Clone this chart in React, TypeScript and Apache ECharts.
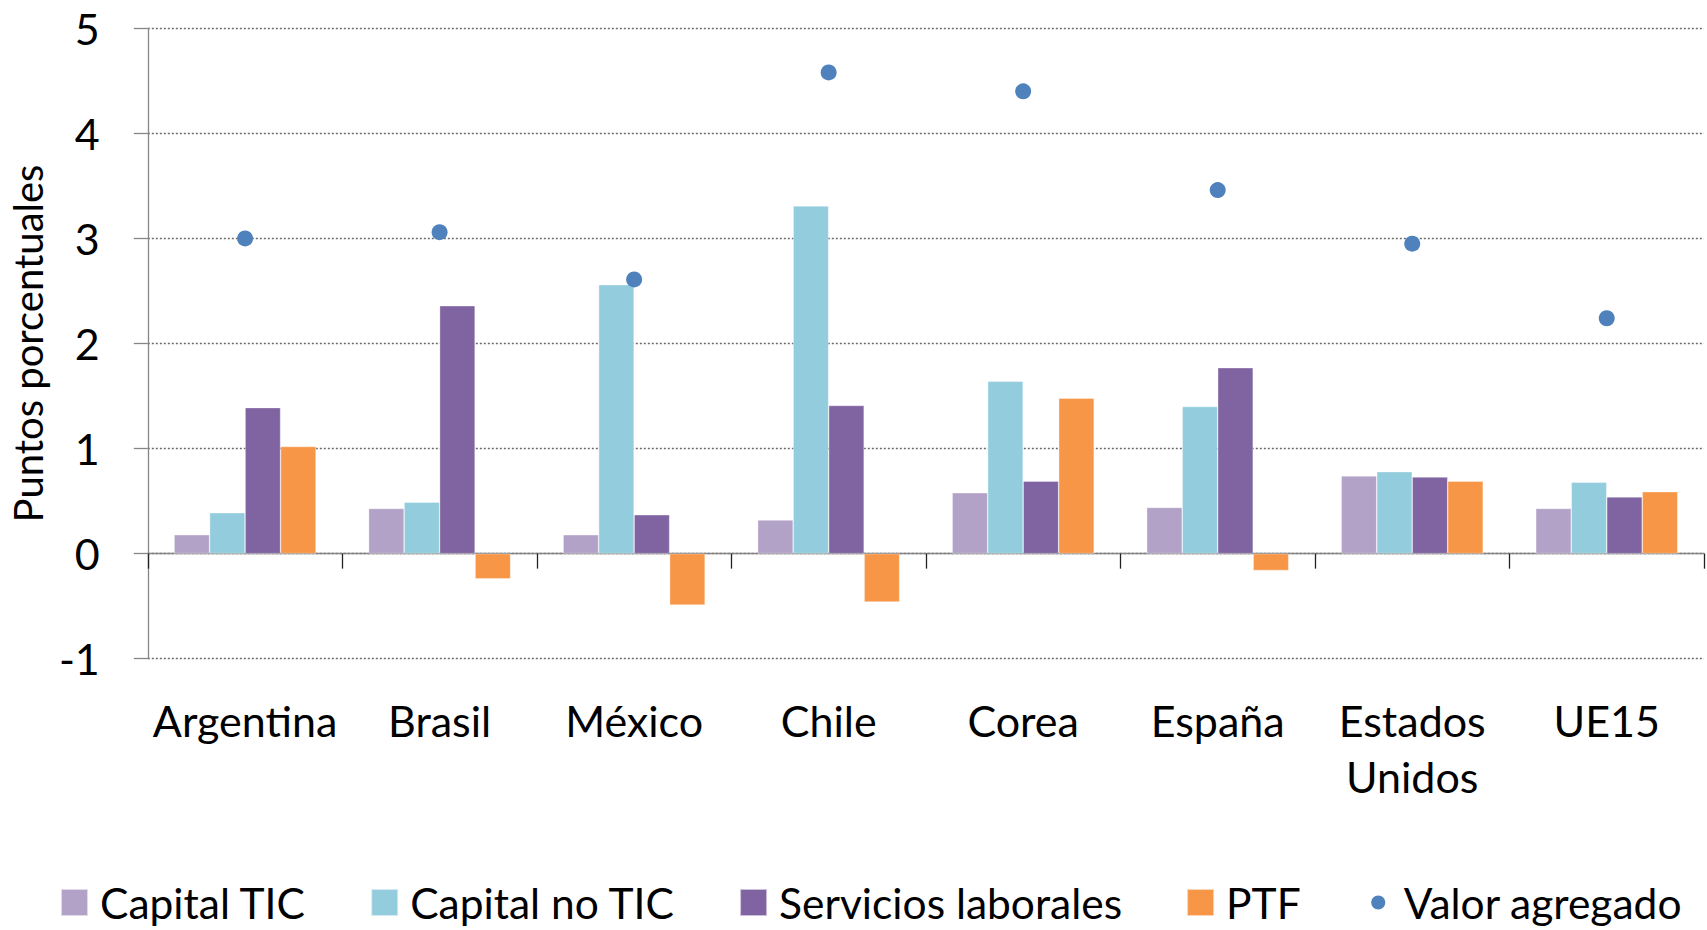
import React, { useEffect, useRef } from "react";
import * as echarts from "echarts";

const categories = ["Argentina", "Brasil", "México", "Chile", "Corea", "España", "Estados\nUnidos", "UE15"];
const capitalTIC = [0.18, 0.43, 0.18, 0.32, 0.58, 0.44, 0.74, 0.43];
const capitalNoTIC = [0.39, 0.49, 2.56, 3.31, 1.64, 1.40, 0.78, 0.68];
const serviciosLaborales = [1.39, 2.36, 0.37, 1.41, 0.69, 1.77, 0.73, 0.54];
const ptf = [1.02, -0.24, -0.49, -0.46, 1.48, -0.16, 0.69, 0.59];
const valorAgregado = [3.0, 3.06, 2.61, 4.58, 4.40, 3.46, 2.95, 2.24];
const yTicks = { min: -1, max: 5, interval: 1 };

const FONT = "Lato";
// legend icons: visible mark plus an invisible moveTo that widens the box (gap before the text)
const squareIcon = "path://M0 0 L27 0 L27 27 L0 27 Z M34 13";
const dotIcon =
  "path://M0 0 M34 27 M13.5 6.5 C17.4 6.5 20.5 9.6 20.5 13.5 C20.5 17.4 17.4 20.5 13.5 20.5 C9.6 20.5 6.5 17.4 6.5 13.5 C6.5 9.6 9.6 6.5 13.5 6.5 Z";

export default function App() {
  const ref = useRef<HTMLDivElement>(null);
  useEffect(() => {
    if (!ref.current) return;
    const chart = echarts.init(ref.current, undefined, { renderer: "svg" });
    const barSeries = (name: string, data: number[], color: string) => ({
      name,
      type: "bar",
      data,
      xAxisIndex: 0,
      barGap: "0%",
      barCategoryGap: "27%",
      itemStyle: { color, borderColor: "rgba(255,255,255,0.6)", borderWidth: 0.6 },
    });
    chart.setOption({
      animation: false,
      textStyle: { fontFamily: FONT, color: "#000" },
      grid: { left: 142.6, right: 3, top: 28.3, bottom: 271.3, containLabel: false },
      legend: {
        left: 60,
        right: 0,
        top: 881,
        padding: 0,
        itemWidth: 34,
        itemHeight: 27,
        itemGap: 64,
        textStyle: { fontSize: 42.5, lineHeight: 42, color: "#000", fontFamily: FONT },
        data: [
          { name: "Capital TIC", icon: squareIcon },
          { name: "Capital no TIC", icon: squareIcon },
          { name: "Servicios laborales", icon: squareIcon },
          { name: "PTF", icon: squareIcon },
          { name: "Valor agregado", icon: dotIcon },
        ],
      },
      xAxis: [
        {
          type: "category",
          data: categories,
          position: "bottom",
          boundaryGap: true,
          axisLine: { onZero: true, lineStyle: { color: "#868686", width: 1.3 } },
          axisTick: { show: true, length: 15, lineStyle: { color: "#222", width: 1.3 } },
          axisLabel: { show: false },
          splitLine: { show: false },
        },
        {
          type: "category",
          data: categories,
          position: "bottom",
          boundaryGap: true,
          axisLine: { show: false, onZero: false },
          axisTick: { show: false },
          axisLabel: { interval: 0, margin: 34, fontSize: 43, lineHeight: 56, color: "#000", fontFamily: FONT },
          splitLine: { show: false },
        },
      ],
      yAxis: {
        type: "value",
        min: yTicks.min,
        max: yTicks.max,
        interval: yTicks.interval,
        name: "Puntos porcentuales",
        nameLocation: "middle",
        nameGap: 98,
        nameTextStyle: { fontSize: 40, color: "#000", fontFamily: FONT },
        axisLine: { show: true, lineStyle: { color: "#868686", width: 1.3 } },
        axisTick: { show: true, length: 14, lineStyle: { color: "#868686", width: 1.3 } },
        axisLabel: { margin: 48, fontSize: 43, color: "#000", fontFamily: FONT },
        splitLine: { show: true, lineStyle: { color: "#6a6a6a", type: [2, 2], width: 1.3 } },
      },
      series: [
        barSeries("Capital TIC", capitalTIC, "#B3A2C7"),
        barSeries("Capital no TIC", capitalNoTIC, "#93CDDD"),
        barSeries("Servicios laborales", serviciosLaborales, "#8064A2"),
        barSeries("PTF", ptf, "#F79646"),
        {
          name: "Valor agregado",
          type: "scatter",
          xAxisIndex: 0,
          data: valorAgregado,
          symbol: "circle",
          symbolSize: 16,
          itemStyle: { color: "#4F81BD", opacity: 1 },
          z: 5,
        },
      ],
    });
    return () => chart.dispose();
  }, []);
  return (
    <div
      ref={ref}
      style={{ position: "fixed", left: 0, top: 0, width: 1707, height: 930, background: "#fff" }}
    />
  );
}
